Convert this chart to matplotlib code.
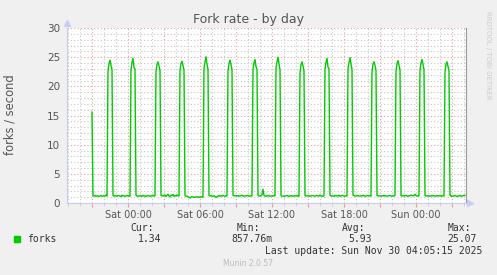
import numpy as np
import matplotlib.pyplot as plt
from matplotlib.ticker import MultipleLocator

# hours relative to Sat 00:00, samples every 5 minutes starting Fri 21:00
start_hour = -3.0
step_hours = 5 / 60.0

forks = [
    # Fri 21:00
    15.6, 1.25, 1.20, 1.30, 1.15, 1.20, 1.25, 1.10, 1.20, 1.30, 1.20, 1.15,
    1.25, 1.20, 1.35, 1.20, 22.6, 23.9, 24.5, 23.6, 22.9, 1.30, 1.20, 1.25,
    # Fri 23:00
    1.20, 1.15, 1.30, 1.25, 1.20, 1.10, 1.35, 1.20, 1.25, 1.15, 1.20, 1.30,
    1.20, 1.25, 1.15, 22.8, 24.1, 24.8, 23.2, 23.0, 1.35, 1.20, 1.15, 1.25,
    # Sat 01:00
    1.20, 1.25, 1.15, 1.30, 1.20, 1.20, 1.10, 1.25, 1.30, 1.20, 1.15, 1.25,
    1.20, 1.35, 1.20, 1.25, 22.5, 23.8, 24.2, 23.5, 22.7, 1.30, 1.25, 1.20,
    # Sat 03:00
    1.25, 1.40, 1.10, 1.30, 1.50, 1.20, 1.05, 1.35, 1.25, 1.45, 1.15, 1.30,
    1.20, 1.40, 1.25, 1.20, 22.7, 23.9, 24.3, 23.6, 22.8, 1.25, 1.15, 1.20,
    # Sat 05:00
    1.05, 1.00, 0.86, 1.00, 1.10, 1.05, 0.95, 1.05, 1.00, 1.10, 1.00, 0.95,
    1.05, 1.00, 1.10, 1.00, 23.0, 24.2, 25.07, 23.8, 22.9, 1.30, 1.20, 1.25,
    # Sat 07:00
    1.20, 1.15, 1.25, 1.10, 0.95, 1.05, 1.20, 1.30, 1.15, 1.25, 1.20, 1.30,
    1.20, 1.15, 1.25, 1.20, 22.6, 23.9, 24.5, 23.7, 22.9, 1.30, 1.25, 1.20,
    # Sat 09:00
    1.25, 1.20, 1.30, 1.15, 1.20, 1.25, 1.35, 1.20, 1.15, 1.25, 1.20, 1.30,
    1.25, 1.20, 1.15, 1.25, 1.20, 22.8, 24.0, 24.6, 23.4, 22.9, 1.30, 1.20,
    # Sat 11:00
    1.20, 1.25, 1.40, 2.35, 1.30, 1.20, 1.15, 1.25, 1.20, 1.30, 1.15, 1.20,
    1.25, 1.20, 1.30, 1.20, 23.1, 24.2, 25.0, 23.9, 22.8, 1.25, 1.20, 1.15,
    # Sat 13:00
    1.20, 1.15, 1.25, 1.30, 1.20, 1.10, 1.25, 1.20, 1.30, 1.15, 1.20, 1.25,
    1.20, 1.30, 1.20, 1.15, 22.4, 23.7, 24.2, 23.5, 22.6, 1.30, 1.20, 1.25,
    # Sat 15:00
    1.20, 1.25, 1.15, 1.20, 1.30, 1.25, 1.20, 1.15, 1.25, 1.30, 1.20, 1.20,
    1.35, 1.25, 1.20, 1.15, 1.25, 22.9, 24.1, 24.8, 23.3, 23.0, 1.30, 1.20,
    # Sat 17:00
    1.25, 1.20, 1.15, 1.30, 1.20, 1.25, 1.20, 1.35, 1.15, 1.20, 1.30, 1.25,
    1.20, 1.15, 1.25, 1.20, 23.0, 24.1, 24.9, 23.8, 22.9, 1.35, 1.25, 1.20,
    # Sat 19:00
    1.20, 1.25, 1.30, 1.20, 1.15, 1.25, 1.20, 1.30, 1.25, 1.20, 1.15, 1.25,
    1.30, 1.20, 1.25, 1.20, 22.5, 23.8, 24.2, 23.6, 22.7, 1.30, 1.20, 1.25,
    # Sat 21:00
    1.20, 1.15, 1.25, 1.20, 1.30, 1.20, 1.25, 1.15, 1.20, 1.30, 1.25, 1.20,
    1.15, 1.25, 1.20, 1.30, 22.6, 23.9, 24.4, 23.6, 22.8, 1.25, 1.20, 1.25,
    # Sat 23:00
    1.20, 1.25, 1.30, 1.20, 1.15, 1.25, 1.20, 1.35, 1.30, 1.20, 1.25, 1.50,
    1.30, 1.20, 1.25, 1.20, 22.8, 24.0, 24.6, 23.7, 22.9, 1.30, 1.20, 1.25,
    # Sun 01:00
    1.20, 1.25, 1.15, 1.20, 1.30, 1.20, 1.25, 1.20, 1.15, 1.30, 1.20, 1.25,
    1.20, 1.30, 1.15, 1.25, 1.20, 22.5, 23.8, 24.2, 23.4, 22.7, 1.30, 1.20,
    # Sun 03:00
    1.20, 1.15, 1.25, 1.30, 1.20, 1.10, 1.25, 1.20, 1.30, 1.15, 1.20, 1.25,
    1.30, 1.34,
]

label_hours = [0, 6, 12, 18, 24]
label_texts = ['Sat 00:00', 'Sat 06:00', 'Sat 12:00', 'Sat 18:00', 'Sun 00:00']

legend_name = 'forks'
stat_names = ['Cur:', 'Min:', 'Avg:', 'Max:']
stat_values = ['1.34', '857.76m', '5.93', '25.07']
last_update = 'Last update: Sun Nov 30 04:05:15 2025'

W, H = 497, 275
fig = plt.figure(figsize=(W / 100, H / 100), dpi=100, facecolor='#F0F0F0')

def px(x, y):
    return x / W, 1 - y / H

left, right, top, bottom = 67, 466, 28, 203
ax = fig.add_axes([left / W, 1 - bottom / H, (right - left) / W, (bottom - top) / H])
ax.set_facecolor('white')

t = start_hour + step_hours * np.arange(len(forks))
ax.plot(t, forks, color='#00CC00', lw=1.0, zorder=3)

ax.set_xlim(-5.083, 28.167)
ax.set_ylim(0, 30)

# grid
ax.xaxis.set_major_locator(MultipleLocator(3))
ax.xaxis.set_minor_locator(MultipleLocator(1))
ax.yaxis.set_major_locator(MultipleLocator(5))
ax.yaxis.set_minor_locator(MultipleLocator(1))
ax.grid(which='minor', color='#C8C8C8', linestyle=(0, (1, 2)), lw=0.8)
ax.grid(which='major', color='#E4A0A0', linestyle=(0, (1, 2)), lw=0.8)

def xfmt(v, pos):
    for h, s in zip(label_hours, label_texts):
        if abs(v - h) < 1e-6:
            return s
    return ''
ax.xaxis.set_major_formatter(plt.FuncFormatter(xfmt))
ax.tick_params(axis='x', which='major', length=3, color='#E4A0A0', labelsize=7,
               labelcolor='#555555', pad=2)
ax.tick_params(axis='x', which='minor', length=2, color='#C8C8C8')
ax.tick_params(axis='y', which='both', length=0, labelsize=7.5, labelcolor='#555555', pad=5)

ax.spines['top'].set_visible(False)
ax.spines['left'].set_color('#C8CCF0')
ax.spines['bottom'].set_color('#C8CCF0')
ax.spines['right'].set_color('#999999')
for s in ['left', 'bottom', 'right']:
    ax.spines[s].set_linewidth(0.8)

# axis arrows
ax.plot([0], [1.03], marker='^', ms=4, color='#C8CCF0', transform=ax.transAxes, clip_on=False)
ax.plot([1.01], [0], marker='>', ms=4, color='#C8CCF0', transform=ax.transAxes, clip_on=False)

# texts
fig.text(*px(249, 19), 'Fork rate - by day', ha='center', va='center', fontsize=9, color='#555555')
fig.text(*px(10, 115), 'forks / second', ha='center', va='center', rotation=90, fontsize=8.3, color='#555555')
fig.text(*px(488, 55), 'RRDTOOL / TOBI OETIKER', ha='center', va='center', rotation=270,
         fontsize=5, color='#CCCCCC')

fig.patches.append(plt.Rectangle(px(14, 242), 6 / W, 6 / H, transform=fig.transFigure,
                                 color='#00CC00', figure=fig))
mono = 'DejaVu Sans Mono'
fig.text(*px(27, 239), legend_name, ha='left', va='center', fontsize=7, family=mono, color='#333333')
name_right = [154, 260, 365, 471]
value_right = [161, 273, 372, 477]
for n, v, nx, vx in zip(stat_names, stat_values, name_right, value_right):
    fig.text(*px(nx, 228), n, ha='right', va='center', fontsize=7, family=mono, color='#333333')
    fig.text(*px(vx, 239), v, ha='right', va='center', fontsize=7, family=mono, color='#333333')
fig.text(*px(482, 251), last_update, ha='right', va='center', fontsize=7, family=mono, color='#333333')
fig.text(*px(248, 264), 'Munin 2.0.57', ha='center', va='center', fontsize=5.5, color='#BBBBBB')

fig.savefig('out.png', dpi=100, facecolor=fig.get_facecolor())
